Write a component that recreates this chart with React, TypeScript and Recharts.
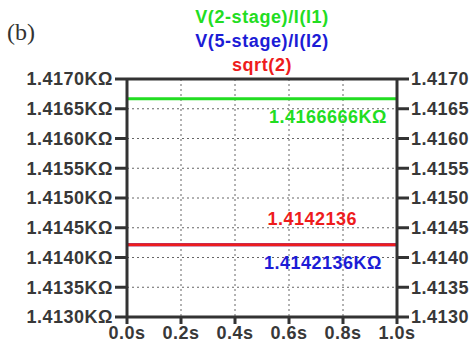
import { LineChart, Line, XAxis, YAxis, CartesianGrid, ReferenceLine } from 'recharts';

const times = [0, 0.2, 0.4, 0.6, 0.8, 1.0];
const twoStage = [1.4166666, 1.4166666, 1.4166666, 1.4166666, 1.4166666, 1.4166666];
const fiveStage = [1.4142136, 1.4142136, 1.4142136, 1.4142136, 1.4142136, 1.4142136];
const sqrt2 = [1.4142136, 1.4142136, 1.4142136, 1.4142136, 1.4142136, 1.4142136];
const yTicks = [1.413, 1.4135, 1.414, 1.4145, 1.415, 1.4155, 1.416, 1.4165, 1.417];

const GREEN = '#22dd22';
const BLUE = '#1c1cd6';
const RED = '#ee1c1c';
const AXIS = '#333333';

const data = times.map((t, i) => ({ t, v2: twoStage[i], v5: fiveStage[i], s2: sqrt2[i] }));

const tickStyle = { fontSize: 18, fontWeight: 'bold', fill: '#383838', fontFamily: 'Liberation Sans, Arial, sans-serif', letterSpacing: 0.5 };

// label drawn relative to the reference line's box
function lineLabel(text: string, color: string, fromRight: number, dy: number) {
  return (props: any) => {
    const vb = props.viewBox || {};
    return (
      <text
        x={vb.x + vb.width - fromRight}
        y={vb.y + dy}
        textAnchor="end"
        dominantBaseline="central"
        fill={color}
        style={{ fontSize: 18, fontWeight: 'bold', fontFamily: 'Liberation Sans, Arial, sans-serif', letterSpacing: 0.5 }}
      >
        {text}
      </text>
    );
  };
}

export default function App() {
  return (
    <div style={{ position: 'fixed', left: 0, top: 0, width: 475, height: 350, background: '#fff', fontFamily: 'Liberation Sans, Arial, sans-serif' }}>
      <div style={{ position: 'absolute', left: 7, top: 19, fontFamily: 'Liberation Serif, serif', fontSize: 24, color: '#333' }}>(b)</div>
      <div style={{ position: 'absolute', left: 127, width: 270, top: 5, textAlign: 'center', fontWeight: 'bold', fontSize: 18, letterSpacing: 0.6, lineHeight: '24px' }}>
        <div style={{ color: GREEN }}>V(2-stage)/I(I1)</div>
        <div style={{ color: BLUE }}>V(5-stage)/I(I2)</div>
        <div style={{ color: RED }}>sqrt(2)</div>
      </div>
      <LineChart width={475} height={350} data={data} margin={{ top: 79, right: 0, bottom: 0, left: 0 }}>
        <CartesianGrid yAxisId="left" stroke="#666" strokeDasharray="2 3" strokeWidth={1} />
        <XAxis
          dataKey="t" type="number" domain={[0, 1]} ticks={times}
          tickFormatter={(v: number) => `${v.toFixed(1)}s`}
          tick={tickStyle} tickSize={7} height={33}
          axisLine={{ stroke: AXIS, strokeWidth: 3 }} tickLine={{ stroke: AXIS, strokeWidth: 3 }}
        />
        <YAxis
          yAxisId="left" domain={[1.413, 1.417]} ticks={yTicks} allowDataOverflow
          tickFormatter={(v: number) => `${v.toFixed(4)}KΩ`}
          tick={tickStyle} tickSize={12} width={127} interval={0}
          axisLine={{ stroke: AXIS, strokeWidth: 3 }} tickLine={{ stroke: AXIS, strokeWidth: 3 }}
        />
        <YAxis
          yAxisId="right" orientation="right" domain={[1.413, 1.417]} ticks={yTicks} allowDataOverflow
          tickFormatter={(v: number) => v.toFixed(4)}
          tick={tickStyle} tickSize={12} width={78} interval={0}
          axisLine={{ stroke: AXIS, strokeWidth: 3 }} tickLine={{ stroke: AXIS, strokeWidth: 3 }}
        />
        <ReferenceLine yAxisId="left" y={1.417} stroke={AXIS} strokeWidth={3} />
        <Line yAxisId="left" dataKey="v5" stroke={BLUE} strokeWidth={3} dot={false} isAnimationActive={false} />
        <Line yAxisId="left" dataKey="s2" stroke={RED} strokeWidth={3} dot={false} isAnimationActive={false} />
        <Line yAxisId="left" dataKey="v2" stroke={GREEN} strokeWidth={3} dot={false} isAnimationActive={false} />
        <ReferenceLine yAxisId="left" y={twoStage[0]} stroke="none" label={lineLabel('1.4166666KΩ', GREEN, 10, 18)} />
        <ReferenceLine yAxisId="left" y={sqrt2[0]} stroke="none" label={lineLabel('1.4142136', RED, 40, -26)} />
        <ReferenceLine yAxisId="left" y={fiveStage[0]} stroke="none" label={lineLabel('1.4142136KΩ', BLUE, 15, 18)} />
      </LineChart>
    </div>
  );
}
